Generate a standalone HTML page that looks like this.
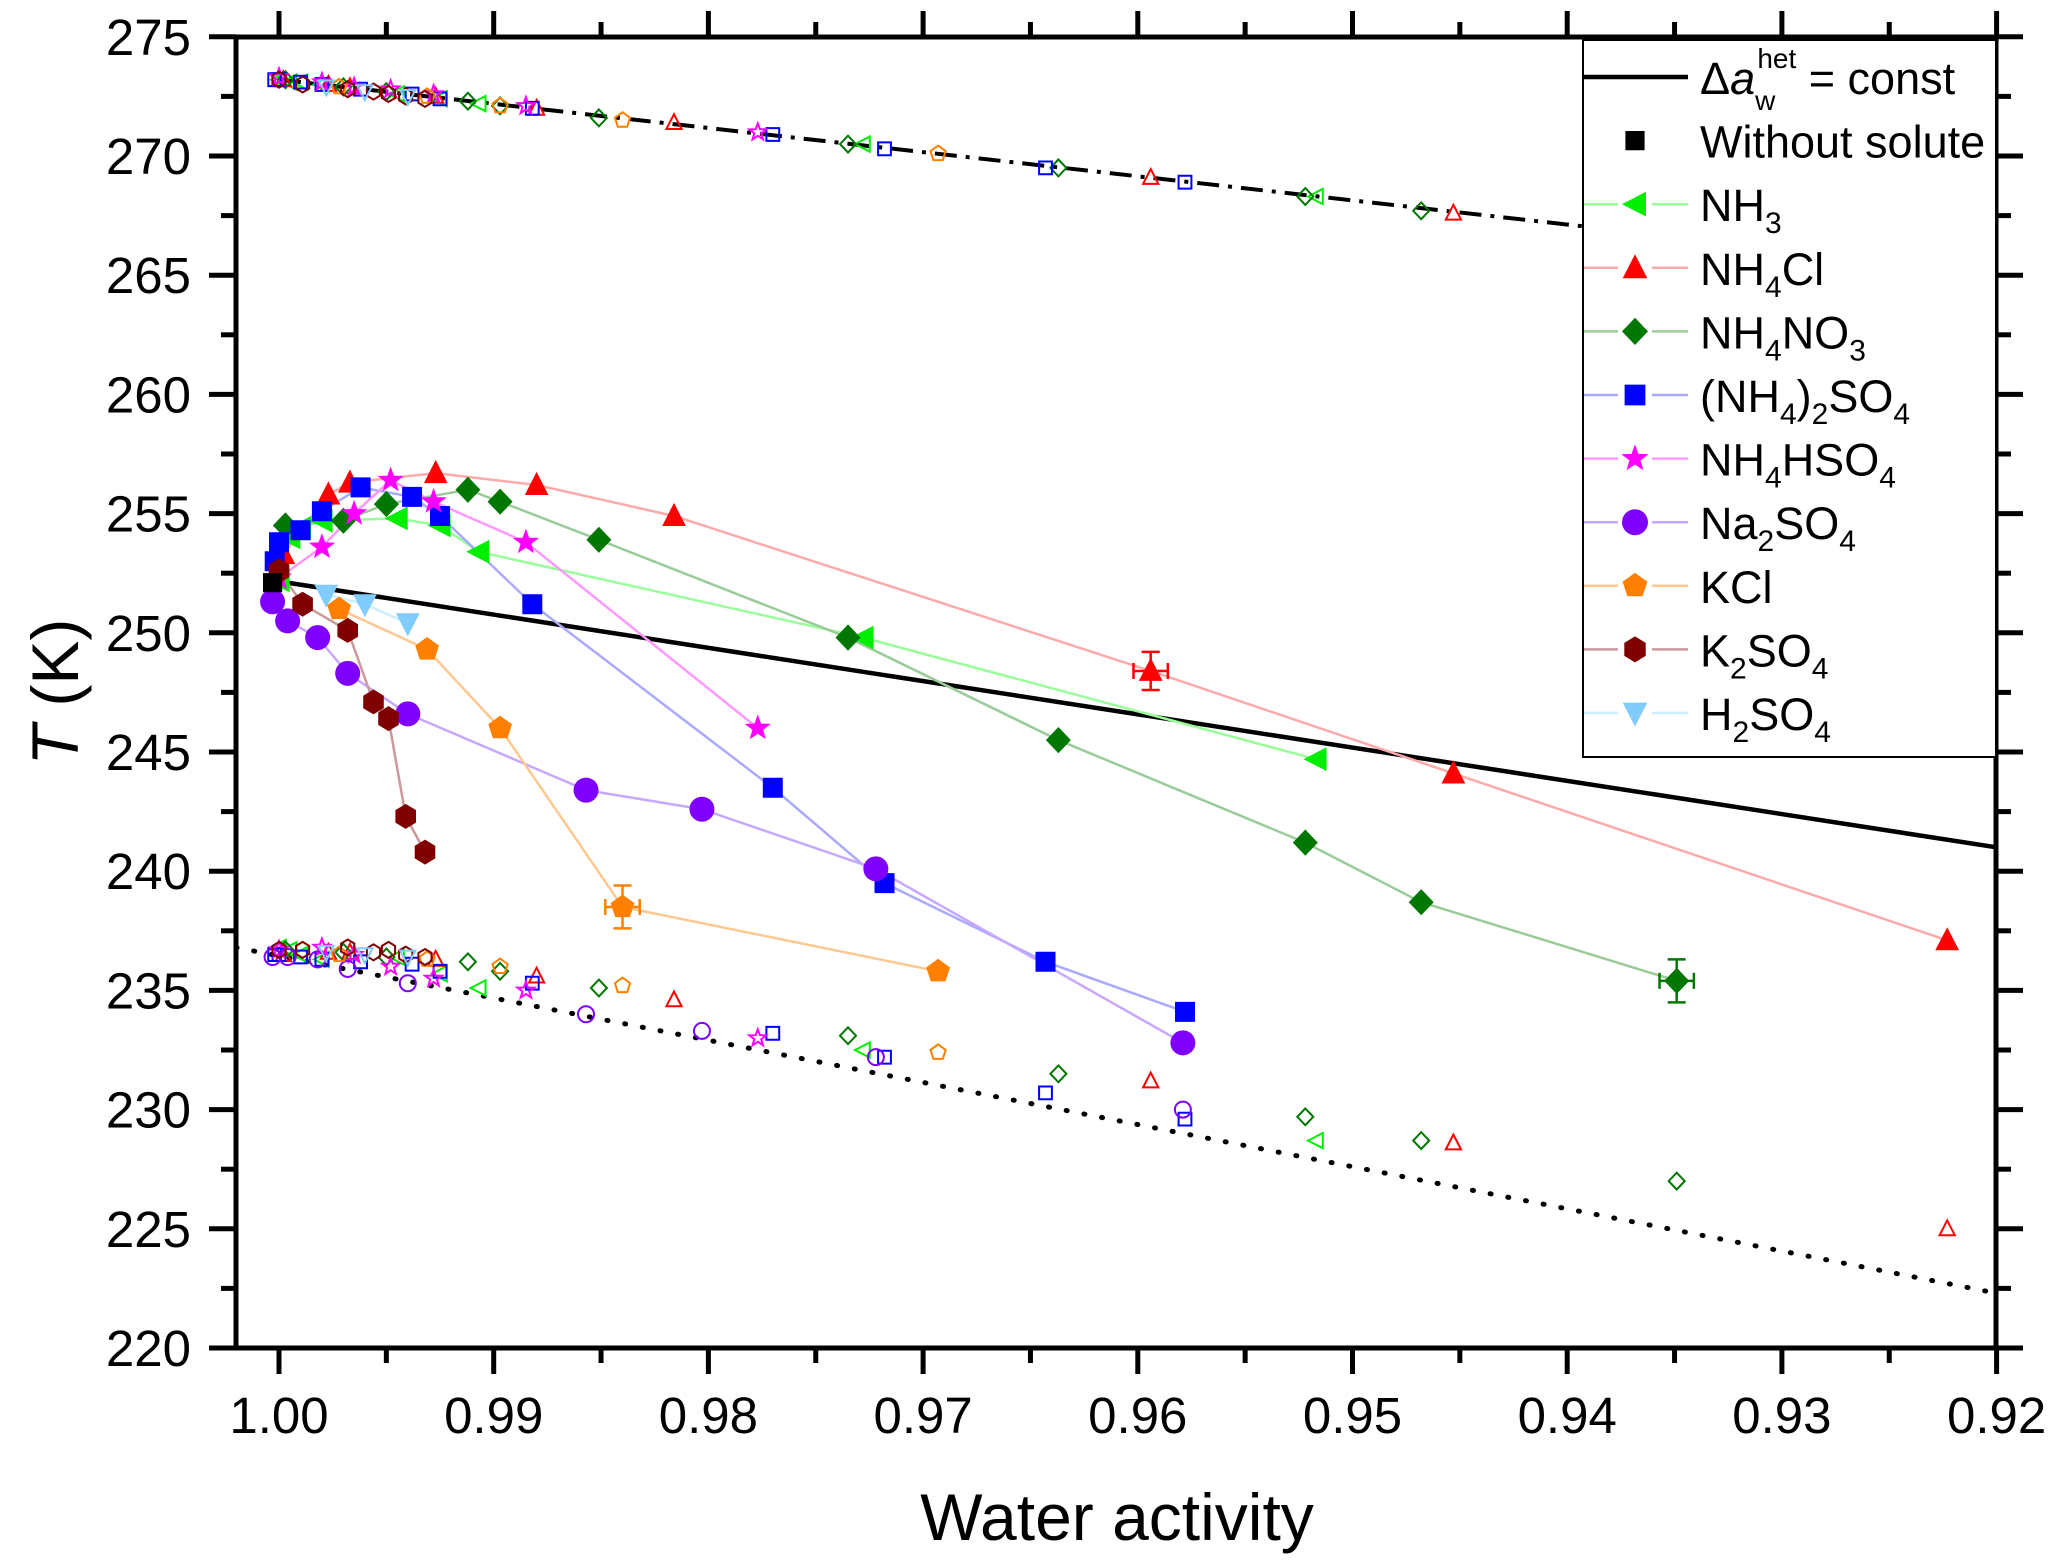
<!DOCTYPE html>
<html><head><meta charset="utf-8"><style>
html,body{margin:0;padding:0;background:#fff;}
svg{display:block;font-family:"Liberation Sans",Arial,sans-serif;}
</style></head><body>
<svg id="chart" width="2067" height="1564" viewBox="0 0 2067 1564" xmlns="http://www.w3.org/2000/svg">
<defs><clipPath id="plotclip"><rect x="236" y="37" width="1760" height="1311"/></clipPath></defs>
<g id="plot" clip-path="url(#plotclip)"></g>
<g id="axes"></g>
<g id="legend"></g>
</svg>
<script>
// ---- data ----
const xTicks = [1.00,0.99,0.98,0.97,0.96,0.95,0.94,0.93,0.92];
const xTickLabels = ["1.00","0.99","0.98","0.97","0.96","0.95","0.94","0.93","0.92"];
const yTicks = [220,225,230,235,240,245,250,255,260,265,270,275];
const yTickLabels = ["220","225","230","235","240","245","250","255","260","265","270","275"];

const constLineX = [1.0003, 0.92];
const constLineT = [252.2, 241.0];
const meltLineX = [1.0, 0.92];
const meltLineT = [273.2, 265.1];
const homLineX = [1.002, 0.92];
const homLineT = [236.8, 222.3];

const noSoluteX = [1.0003];
const noSoluteT = [252.1];

const nh3X = [1.0,0.9995,0.999,0.998,0.9945,0.9925,0.9907,0.9728,0.9517];
const nh3T = [252.2,254.0,254.4,254.7,254.8,254.5,253.4,249.8,244.7];
const nh3MeltT = [273.2,273.1,273.1,273.0,272.6,272.4,272.2,270.5,268.3];
const nh3HomT = [236.8,236.7,236.5,236.3,236.4,235.7,235.1,232.5,228.7];

const nh4clX = [0.9998,0.9977,0.9967,0.9927,0.988,0.9816,0.9594,0.9453,0.9223];
const nh4clT = [253.3,255.8,256.3,256.7,256.2,254.9,248.4,244.1,237.1];
const nh4clMeltT = [273.2,273.0,272.9,272.5,272.0,271.4,269.1,267.6,265.1];
const nh4clHomT = [236.5,236.6,236.6,236.3,235.6,234.6,231.2,228.6,225.0];

const nh4no3X = [0.9997,0.997,0.995,0.9912,0.9897,0.9851,0.9735,0.9637,0.9522,0.9468,0.9349];
const nh4no3T = [254.5,254.7,255.4,256.0,255.5,253.9,249.8,245.5,241.2,238.7,235.4];
const nh4no3MeltT = [273.2,272.9,272.7,272.3,272.1,271.6,270.5,269.5,268.3,267.7,266.5];
const nh4no3HomT = [236.7,236.6,236.4,236.2,235.8,235.1,233.1,231.5,229.7,228.7,227.0];

const amsX = [1.0002,1.0,0.999,0.998,0.9962,0.9938,0.9925,0.9882,0.977,0.9718,0.9643,0.9578];
const amsT = [253.0,253.8,254.3,255.1,256.1,255.7,254.9,251.2,243.5,239.5,236.2,234.1];
const amsMeltT = [273.2,273.2,273.1,273.0,272.8,272.6,272.4,272.0,270.9,270.3,269.5,268.9];
const amsHomT = [236.5,236.5,236.4,236.3,236.2,236.1,235.8,235.3,233.2,232.2,230.7,229.6];

const ahsX = [1.0,0.998,0.9965,0.9948,0.9928,0.9885,0.9777];
const ahsT = [252.3,253.6,255.0,256.4,255.5,253.8,246.0];
const ahsMeltT = [273.3,273.1,272.9,272.8,272.6,272.1,271.0];
const ahsHomT = [236.7,236.8,236.5,236.0,235.5,235.0,233.0];

const na2so4X = [1.0003,0.9996,0.9982,0.9968,0.994,0.9857,0.9803,0.9722,0.9579];
const na2so4T = [251.3,250.5,249.8,248.3,246.6,243.4,242.6,240.1,232.8];
const na2so4HomT = [236.4,236.4,236.3,235.9,235.3,234.0,233.3,232.2,230.0];

const kclX = [0.9972,0.9931,0.9897,0.984,0.9693];
const kclT = [251.0,249.3,246.0,238.5,235.8];
const kclMeltT = [272.9,272.5,272.1,271.5,270.1];
const kclHomT = [236.5,236.3,236.0,235.2,232.4];

const k2so4X = [1.0,0.9989,0.9968,0.9956,0.9949,0.9941,0.9932];
const k2so4T = [252.6,251.2,250.1,247.1,246.4,242.3,240.8];
const k2so4MeltT = [273.2,273.0,272.8,272.7,272.6,272.5,272.4];
const k2so4HomT = [236.7,236.7,236.8,236.6,236.7,236.5,236.4];

const h2so4X = [0.9978,0.996,0.994];
const h2so4T = [251.6,251.2,250.4];
const h2so4MeltT = [272.9,272.7,272.5];
const h2so4HomT = [236.6,236.5,236.4];

// error bars: x, T, xErr, TErr
const errX = [0.9594,0.9349,0.984];
const errT = [248.4,235.4,238.5];
const errXErr = [0.0008,0.0008,0.0008];
const errTErr = [0.8,0.9,0.9];

// ---- scales ----
const X0=279, XPER=214.7; // px per 0.01
const Y0=1348, YPER=23.84; // px per K from 220
function sx(v){return X0+(1-v)/0.01*XPER;}
function sy(t){return Y0-(t-220)*YPER;}

const NS="http://www.w3.org/2000/svg";
function mk(tag,attrs,parent){const e=document.createElementNS(NS,tag);for(const k in attrs)e.setAttribute(k,attrs[k]);parent.appendChild(e);return e;}
const plot=document.getElementById('plot'), axes=document.getElementById('axes'), legend=document.getElementById('legend');

function markerPath(shape,cx,cy,r){
  const pts=(arr)=>'M'+arr.map(p=>(cx+p[0]*r).toFixed(1)+','+(cy+p[1]*r).toFixed(1)).join('L')+'Z';
  if(shape==='square')return pts([[-0.8,-0.8],[0.8,-0.8],[0.8,0.8],[-0.8,0.8]]);
  if(shape==='left')return pts([[-1,0],[0.85,-0.95],[0.85,0.95]]);
  if(shape==='up')return pts([[0,-1.05],[0.95,0.8],[-0.95,0.8]]);
  if(shape==='down')return pts([[0,1.05],[0.95,-0.8],[-0.95,-0.8]]);
  if(shape==='diamond')return pts([[0,-1.05],[1,0],[0,1.05],[-1,0]]);
  if(shape==='pent'){const a=[];for(let i=0;i<5;i++){const t=-Math.PI/2+i*2*Math.PI/5;a.push([Math.cos(t),Math.sin(t)]);}return pts(a);}
  if(shape==='hex'){const a=[];for(let i=0;i<6;i++){const t=-Math.PI/2+i*Math.PI/3;a.push([Math.cos(t)*0.95,Math.sin(t)]);}return pts(a);}
  if(shape==='star'){const a=[];for(let i=0;i<10;i++){const t=-Math.PI/2+i*Math.PI/5;const rr=i%2?0.45:1.1;a.push([Math.cos(t)*rr,Math.sin(t)*rr]);}return pts(a);}
  if(shape==='circle'){return 'M'+(cx-r)+','+cy+'a'+r+','+r+' 0 1,0 '+(2*r)+',0a'+r+','+r+' 0 1,0 '+(-2*r)+',0Z';}
}

const series=[
 {name:'nh3',shape:'left',col:'#00ee00',line:'#99ff99',x:nh3X,t:nh3T,m:nh3MeltT,h:nh3HomT},
 {name:'nh4cl',shape:'up',col:'#ff0000',line:'#ffaaaa',x:nh4clX,t:nh4clT,m:nh4clMeltT,h:nh4clHomT},
 {name:'nh4no3',shape:'diamond',col:'#007700',line:'#99cc99',x:nh4no3X,t:nh4no3T,m:nh4no3MeltT,h:nh4no3HomT},
 {name:'nh4-2so4',shape:'square',col:'#0000ff',line:'#aaaaff',x:amsX,t:amsT,m:amsMeltT,h:amsHomT},
 {name:'nh4hso4',shape:'star',col:'#ff00ff',line:'#ff99ff',x:ahsX,t:ahsT,m:ahsMeltT,h:ahsHomT},
 {name:'na2so4',shape:'circle',col:'#7f00ff',line:'#c8a8ff',x:na2so4X,t:na2so4T,m:null,h:na2so4HomT},
 {name:'kcl',shape:'pent',col:'#ff8000',line:'#ffc890',x:kclX,t:kclT,m:kclMeltT,h:kclHomT},
 {name:'k2so4',shape:'hex',col:'#800000',line:'#cc9999',x:k2so4X,t:k2so4T,m:k2so4MeltT,h:k2so4HomT},
 {name:'h2so4',shape:'down',col:'#80ccff',line:'#cceeff',x:h2so4X,t:h2so4T,m:h2so4MeltT,h:h2so4HomT}
];

let e;
e=mk('line',{x1:sx(meltLineX[0]),y1:sy(meltLineT[0]),x2:sx(meltLineX[1]),y2:sy(meltLineT[1]),stroke:'#000','stroke-width':4,'stroke-dasharray':'22 9 4 9'},plot);


e=mk('line',{x1:sx(homLineX[0]),y1:sy(homLineT[0]),x2:sx(homLineX[1]),y2:sy(homLineT[1]),stroke:'#000','stroke-width':5,'stroke-dasharray':'1 17','stroke-linecap':'round'},plot);



series.forEach(s=>{
  [s.m,s.h].forEach((arr,k)=>{ if(!arr)return;
    arr.forEach((t,i)=>{
      e=mk('path',{d:markerPath(s.shape,sx(s.x[i]),sy(t),8),fill:'none',stroke:s.col,'stroke-width':2},plot);
      
      
    });
  });
});

e=mk('line',{x1:sx(constLineX[0]),y1:sy(constLineT[0]),x2:sx(constLineX[1]),y2:sy(constLineT[1]),stroke:'#000','stroke-width':4.5},plot);



series.forEach(s=>{
  e=mk('polyline',{points:s.x.map((v,i)=>sx(v)+','+sy(s.t[i])).join(' '),fill:'none',stroke:s.line,'stroke-width':2.5},plot);
  
  
});
errX.forEach((v,i)=>{
  const col=['#ff0000','#007700','#ff8000'][i];
  const cx=sx(v),cy=sy(errT[i]),dx=sx(v-errXErr[i])-cx,dy=sy(errT[i]-errTErr[i])-cy;
  e=mk('path',{d:`M${cx-dx},${cy}H${cx+dx}M${cx-dx},${cy-8}v16M${cx+dx},${cy-8}v16M${cx},${cy-dy}V${cy+dy}M${cx-9},${cy-dy}h18M${cx-9},${cy+dy}h18`,stroke:col,'stroke-width':2.5,fill:'none'},plot);
  
  
});
series.forEach(s=>{
  s.t.forEach((t,i)=>{
    e=mk('path',{d:markerPath(s.shape,sx(s.x[i]),sy(t),12.5),fill:s.col},plot);
    
    
  });
});
noSoluteX.forEach((v,i)=>{
  e=mk('path',{d:markerPath('square',sx(v),sy(noSoluteT[i]),12),fill:'#000'},plot);
  
  
});

e=mk('rect',{x:236,y:37,width:1760,height:1311,fill:'none',stroke:'#000','stroke-width':5},axes);


xTicks.forEach((v,i)=>{
  const x=sx(v);
  mk('line',{x1:x,y1:1348,x2:x,y2:1374,stroke:'#000','stroke-width':5},axes);
  mk('line',{x1:x,y1:37,x2:x,y2:11,stroke:'#000','stroke-width':5},axes);
  e=mk('text',{x:x,y:1433,'font-size':51,'text-anchor':'middle',fill:'#000'},axes);
  e.textContent=xTickLabels[i];
  
  
  if(i<xTicks.length-1){const xm=sx(v-0.005);
    mk('line',{x1:xm,y1:1348,x2:xm,y2:1363,stroke:'#000','stroke-width':5},axes);
    mk('line',{x1:xm,y1:37,x2:xm,y2:22,stroke:'#000','stroke-width':5},axes);}
});
yTicks.forEach((t,i)=>{
  const y=sy(t);
  mk('line',{x1:236,y1:y,x2:209,y2:y,stroke:'#000','stroke-width':5},axes);
  mk('line',{x1:1996,y1:y,x2:2023,y2:y,stroke:'#000','stroke-width':5},axes);
  e=mk('text',{x:191,y:y+18,'font-size':51,'text-anchor':'end',fill:'#000'},axes);
  e.textContent=yTickLabels[i];
  
  
  if(i<yTicks.length-1){const ym=sy(t+2.5);
    mk('line',{x1:236,y1:ym,x2:221,y2:ym,stroke:'#000','stroke-width':5},axes);
    mk('line',{x1:1996,y1:ym,x2:2011,y2:ym,stroke:'#000','stroke-width':5},axes);}
});
e=mk('text',{x:1117,y:1540,'font-size':66,'text-anchor':'middle',fill:'#000'},axes);
e.textContent='Water activity';


e=mk('text',{transform:'translate(78,692) rotate(-90)','font-size':66,'text-anchor':'middle',fill:'#000'},axes);
e.innerHTML='<tspan font-style="italic">T</tspan> (K)';



e=mk('rect',{x:1583,y:40,width:413,height:717,fill:'#fff',stroke:'#000','stroke-width':2},legend);


const legLabels=[
 '<tspan>Δ</tspan><tspan font-style="italic">a</tspan><tspan font-size="28" dy="16">w</tspan><tspan font-size="28" dx="-18" dy="-42">het</tspan><tspan dy="26"> = const</tspan>',
 'Without solute',
 'NH<tspan font-size="30" dy="12">3</tspan>',
 'NH<tspan font-size="30" dy="12">4</tspan><tspan dy="-12">Cl</tspan>',
 'NH<tspan font-size="30" dy="12">4</tspan><tspan dy="-12">NO</tspan><tspan font-size="30" dy="12">3</tspan>',
 '(NH<tspan font-size="30" dy="12">4</tspan><tspan dy="-12">)</tspan><tspan font-size="30" dy="12">2</tspan><tspan dy="-12">SO</tspan><tspan font-size="30" dy="12">4</tspan>',
 'NH<tspan font-size="30" dy="12">4</tspan><tspan dy="-12">HSO</tspan><tspan font-size="30" dy="12">4</tspan>',
 'Na<tspan font-size="30" dy="12">2</tspan><tspan dy="-12">SO</tspan><tspan font-size="30" dy="12">4</tspan>',
 'KCl',
 'K<tspan font-size="30" dy="12">2</tspan><tspan dy="-12">SO</tspan><tspan font-size="30" dy="12">4</tspan>',
 'H<tspan font-size="30" dy="12">2</tspan><tspan dy="-12">SO</tspan><tspan font-size="30" dy="12">4</tspan>'
];
legLabels.forEach((lab,i)=>{
  const y=77+i*63.6;
  const g=mk('g',{},legend);
  
  
  if(i===0){mk('line',{x1:1584,y1:y,x2:1688,y2:y,stroke:'#000','stroke-width':4.5},g);}
  else if(i===1){mk('path',{d:markerPath('square',1635,y,12),fill:'#000'},g);}
  else{const s=series[i-2];
    mk('line',{x1:1584,y1:y,x2:1688,y2:y,stroke:s.line,'stroke-width':2.5},g);
    mk('rect',{x:1618,y:y-16,width:34,height:32,fill:'#fff'},g);
    mk('path',{d:markerPath(s.shape,1635,y,13),fill:s.col},g);}
  const t=mk('text',{x:1700,y:y+17,'font-size':45,fill:'#000'},g);
  t.innerHTML=lab;
});
</script>
</body></html>
